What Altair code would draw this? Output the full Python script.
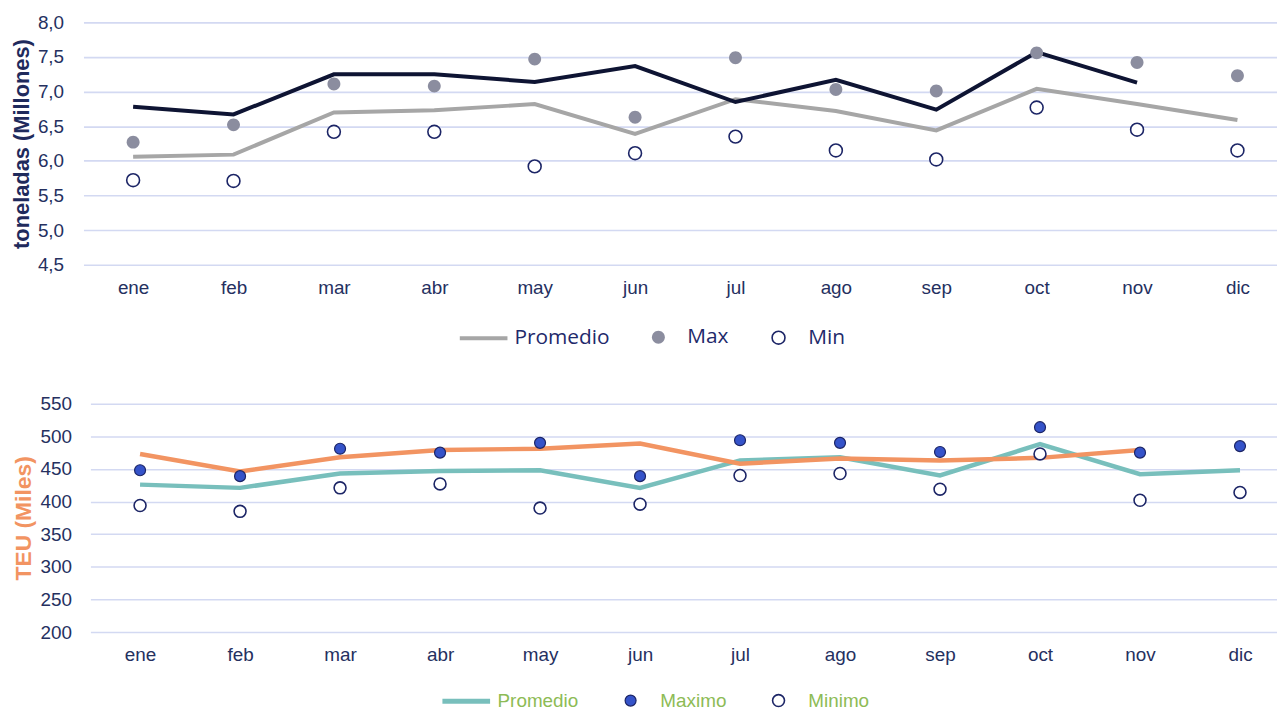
import altair as alt
import pandas as pd

meses = ["ene", "feb", "mar", "abr", "may", "jun", "jul", "ago", "sep", "oct", "nov", "dic"]

# Panel superior: toneladas (millones)
ton_promedio = [6.06, 6.09, 6.70, 6.73, 6.82, 6.39, 6.89, 6.72, 6.44, 7.04, 6.82, 6.59]
ton_actual = [6.78, 6.67, 7.25, 7.25, 7.14, 7.37, 6.85, 7.17, 6.74, 7.57, 7.13, None]
ton_max = [6.27, 6.52, 7.11, 7.08, 7.47, 6.63, 7.49, 7.03, 7.01, 7.56, 7.42, 7.23]
ton_min = [5.72, 5.71, 6.42, 6.42, 5.92, 6.11, 6.35, 6.15, 6.02, 6.77, 6.45, 6.15]
ton_ticks = [4.5, 5.0, 5.5, 6.0, 6.5, 7.0, 7.5, 8.0]

# Panel inferior: TEU (miles)
teu_promedio = [426, 421, 443, 447, 448, 421, 463, 468, 440, 488, 442, 448]
teu_actual = [473, 446, 468, 479, 481, 489, 458, 466, 463, 467, 479, None]
teu_max = [448, 439, 481, 475, 490, 439, 494, 490, 476, 514, 475, 485]
teu_min = [394, 385, 421, 427, 390, 396, 440, 443, 419, 473, 402, 414]
teu_ticks = [200, 250, 300, 350, 400, 450, 500, 550]

leg_top = ["Promedio", "Max", "Min"]
leg_bot = ["Promedio", "Maximo", "Minimo"]

NAVY = "#25305f"
GRID = "#d3d9f2"
SYM = 2304  # symbol box 48 px

month_expr = "[" + ",".join(f"'{m}'" for m in meses) + "][datum.value]"


def circle_path(r):
    return f"M{-r},0A{r},{r} 0 1,0 {r},0A{r},{r} 0 1,0 {-r},0Z"


def line_df(vals):
    return pd.DataFrame({"i": list(range(len(vals))), "v": vals})


def pts_df(mx, mn, names):
    rows = []
    for i, v in enumerate(mx):
        rows.append({"i": i, "v": v, "serie": names[1]})
    for i, v in enumerate(mn):
        rows.append({"i": i, "v": v, "serie": names[2]})
    return pd.DataFrame(rows)


def panel(prom, act, mx, mn, names, *, width, height, x_dom, x_range, y_dom, y_ticks,
          y_label_expr, y_label_pad, y_title, y_title_color, y_title_size, y_title_pad,
          prom_color, act_color, line_w,
          fills, strokes, radii, swidths,
          leg_x, leg_y, leg_font, leg_size, leg_color, leg_colpad):
    x_enc = alt.X("i:Q",
                  scale=alt.Scale(domain=x_dom, range=x_range, nice=False, zero=False),
                  axis=alt.Axis(values=list(range(12)), labelExpr=month_expr,
                                grid=False, domain=False, ticks=False,
                                labelPadding=14, labelFontSize=19,
                                labelFont="Liberation Sans", labelColor=NAVY,
                                labelFlush=False, labelOverlap=False, title=None))
    y_enc = alt.Y("v:Q",
                  scale=alt.Scale(domain=y_dom, nice=False, zero=False),
                  axis=alt.Axis(values=y_ticks, labelExpr=y_label_expr,
                                grid=True, gridColor=GRID, gridWidth=1.6,
                                domain=False, ticks=False, labelPadding=y_label_pad,
                                labelFontSize=19, labelFont="Liberation Sans",
                                labelColor=NAVY, title=y_title,
                                titleFont="Liberation Sans", titleFontSize=y_title_size,
                                titleFontWeight="bold", titleColor=y_title_color,
                                titlePadding=y_title_pad))

    l_prom = alt.Chart(line_df(prom)).mark_line(
        color=prom_color, strokeWidth=line_w, strokeJoin="miter").encode(x=x_enc, y=y_enc)
    l_act = alt.Chart(line_df(act)).mark_line(
        color=act_color, strokeWidth=line_w, strokeJoin="miter").encode(x=x_enc, y=y_enc)

    legend = alt.Legend(title=None, orient="none", legendX=leg_x, legendY=leg_y,
                        direction="horizontal", labelFont=leg_font,
                        labelFontSize=leg_size, labelColor=leg_color,
                        labelOffset=5, columnPadding=leg_colpad, symbolOpacity=1,
                        symbolSize=SYM, padding=0)
    dom = names
    shapes = ["stroke", circle_path(radii[0]), circle_path(radii[1])]
    pts = alt.Chart(pts_df(mx, mn, names)).mark_point(filled=True, opacity=1, size=SYM).encode(
        x=x_enc, y=y_enc,
        shape=alt.Shape("serie:N", scale=alt.Scale(domain=dom, range=shapes), legend=legend),
        fill=alt.Fill("serie:N", scale=alt.Scale(domain=dom, range=fills), legend=legend),
        stroke=alt.Stroke("serie:N", scale=alt.Scale(domain=dom, range=strokes), legend=legend),
        strokeWidth=alt.StrokeWidth("serie:N", scale=alt.Scale(type="ordinal", domain=dom, range=swidths), legend=legend),
    )
    return alt.layer(l_prom, l_act, pts).properties(width=width, height=height)


top = panel(
    ton_promedio, ton_actual, ton_max, ton_min, leg_top,
    width=1202, height=244, x_dom=[-0.4946, 11.394], x_range=[0, 1202],
    y_dom=[4.5, 8.0], y_ticks=ton_ticks,
    y_label_expr="replace(format(datum.value, '.1f'), '.', ',')", y_label_pad=20,
    y_title="toneladas (Millones)", y_title_color="#1f2a5c", y_title_size=22, y_title_pad=4,
    prom_color="#a6a6a6", act_color="#0e1433", line_w=4,
    fills=["#a6a6a6", "#8b8d9f", "white"], strokes=["#a6a6a6", "#8b8d9f", "#1c2566"],
    radii=[0.271, 0.27], swidths=[4, 0, 1.6],
    leg_x=377, leg_y=292, leg_font="Open Sans", leg_size=21, leg_color="#1f2a6b", leg_colpad=25,
)

bottom = panel(
    teu_promedio, teu_actual, teu_max, teu_min, leg_bot,
    width=1202, height=230, x_dom=[-0.4965, 11.37], x_range=[7, 1202],
    y_dom=[200, 550], y_ticks=teu_ticks,
    y_label_expr="format(datum.value, 'd')", y_label_pad=12,
    y_title="TEU (Miles)", y_title_color="#f29462", y_title_size=23, y_title_pad=5,
    prom_color="#78bfbc", act_color="#f29462", line_w=4.5,
    fills=["#78bfbc", "#3553c9", "white"], strokes=["#78bfbc", "#1c2566", "#1c2566"],
    radii=[0.23, 0.25], swidths=[5, 1.2, 1.6],
    leg_x=359, leg_y=273, leg_font="Liberation Sans", leg_size=19, leg_color="#8dbb55", leg_colpad=27,
)

chart = alt.concat(top, bottom, columns=1, spacing=47).resolve_scale(
    shape="independent", fill="independent", stroke="independent",
    strokeWidth="independent", x="independent", y="independent"
).resolve_legend(
    shape="independent", fill="independent", stroke="independent", strokeWidth="independent"
).properties(
    padding={"left": 2, "top": 3, "right": 0, "bottom": 0}
).configure_view(stroke=None)

chart.save("out.html", embed_options={"renderer": "svg", "actions": False})
